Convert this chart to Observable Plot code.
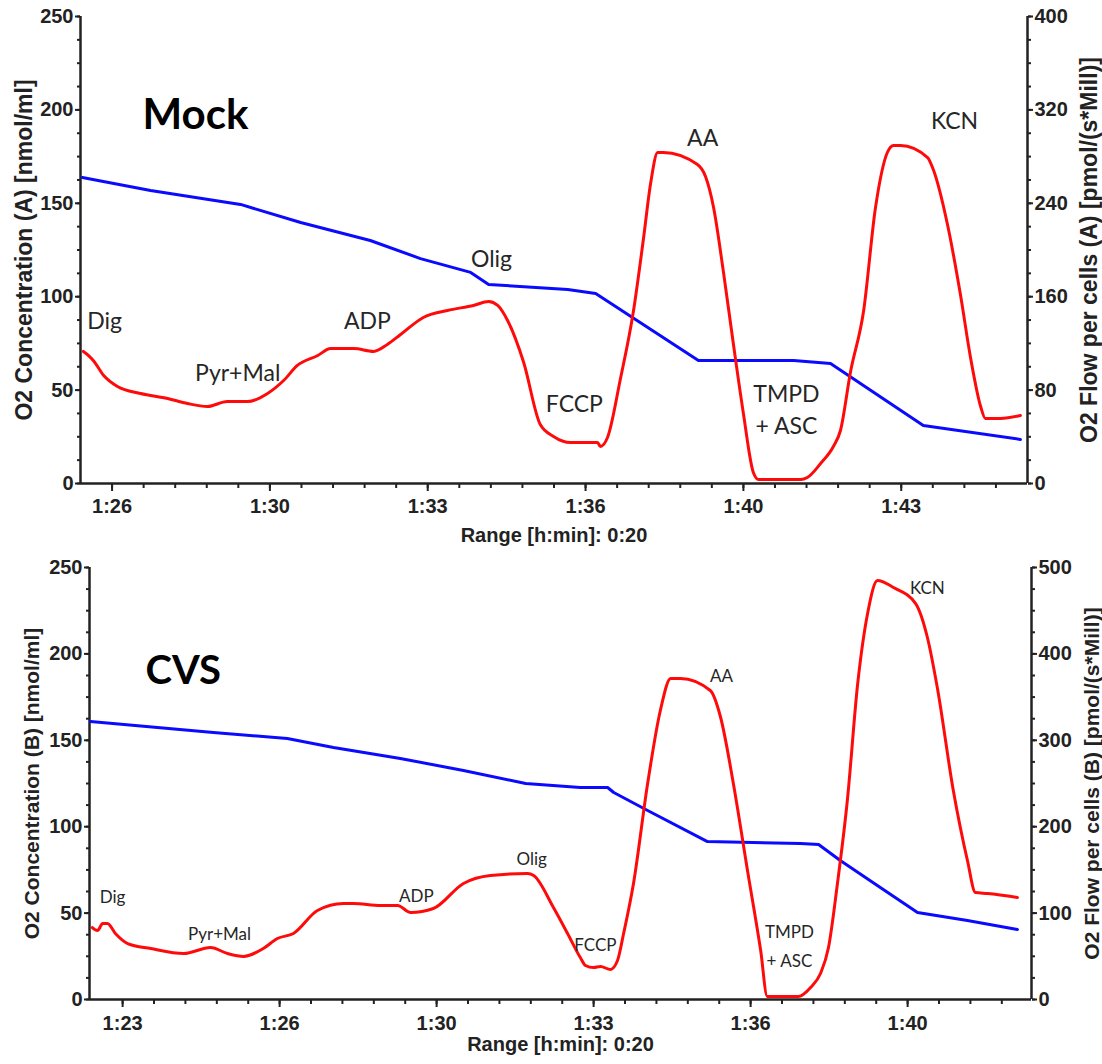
<!DOCTYPE html>
<html>
<head>
<meta charset="utf-8">
<script src="https://cdn.jsdelivr.net/npm/d3@7"></script>
<script src="https://cdn.jsdelivr.net/npm/@observablehq/plot@0.6"></script>
<style>
  body { margin: 0; background: #fff; }
  #chart svg { display: block; }
</style>
</head>
<body>
<div id="chart"></div>
<script>
// Time is in minutes of the run (86.5 = 1:26:30).

// ---- Mock: chamber A ----
const mockConcTime = [86.04, 87.48, 89.38, 90.65, 92.12, 93.18, 94.24, 94.62, 96.29, 96.88, 99.05, 101.06, 101.84, 103.80, 105.85];
const mockConc = [163.8, 156.9, 149.4, 139.7, 130.1, 120.4, 113.0, 106.5, 103.9, 101.7, 65.8, 65.8, 64.2, 31.0, 23.6];

const mockFlowTime = [86.06, 86.17, 86.27, 86.49, 86.78, 87.27, 87.84, 88.26, 88.68, 89.10, 89.53, 89.95, 90.29, 90.58, 91.01, 91.28, 91.77, 92.19, 92.48, 92.76, 93.24, 93.75, 94.30, 94.62, 94.81, 95.02, 95.36, 95.71, 95.99, 96.35, 96.92, 96.98, 97.13, 97.40, 97.68, 97.89, 98.04, 98.19, 98.31, 99.03, 99.20, 99.37, 99.58, 99.79, 100.00, 100.21, 100.32, 101.21, 101.35, 101.63, 101.90, 102.05, 102.26, 102.54, 102.79, 103.04, 103.17, 103.32, 103.89, 104.01, 104.31, 104.58, 104.80, 105.01, 105.11, 105.43, 105.85];
const mockFlow = [113.1, 109.6, 105.4, 92.5, 83.1, 77.1, 72.8, 68.5, 66.0, 70.2, 70.2, 77.1, 88.2, 101.1, 109.6, 115.6, 115.6, 113.1, 119.1, 127.6, 142.2, 148.2, 152.5, 155.9, 152.5, 139.6, 103.6, 50.5, 40.3, 35.1, 35.1, 31.7, 39.4, 89.1, 148.2, 209.8, 257.0, 283.5, 283.5, 273.2, 262.9, 236.4, 180.7, 119.1, 60.0, 9.4, 3.4, 3.4, 5.1, 17.1, 31.7, 45.4, 95.1, 148.2, 236.4, 283.5, 289.5, 289.5, 279.2, 268.9, 221.8, 162.7, 107.1, 66.0, 55.7, 55.7, 58.2];

const mockEvents = ["Dig", "Pyr+Mal", "ADP", "Olig", "FCCP", "AA", "TMPD\n+ ASC", "KCN"];
const mockEventTime = [86.51, 89.32, 92.06, 94.68, 96.43, 99.14, 100.91, 104.46];
const mockEventLevel = [88.3, 60.5, 88.3, 121.5, 43.9, 186.3, 40.7, 195.4];

const mockTicks = [86 + 2 / 3, 90, 93 + 1 / 3, 96 + 2 / 3, 100, 103 + 1 / 3];
const mockTickLabels = ["1:26", "1:30", "1:33", "1:36", "1:40", "1:43"];

// ---- CVS: chamber B ----
const cvsConcTime = [82.65, 85.26, 86.83, 87.81, 89.23, 90.57, 91.89, 93.05, 93.63, 93.76, 94.48, 95.75, 97.73, 98.11, 98.57, 99.42, 100.21, 101.27, 102.33];
const cvsConc = [160.9, 154.5, 151.0, 145.8, 139.5, 132.5, 125.0, 122.7, 122.7, 119.8, 109.4, 91.4, 90.3, 89.7, 80.4, 64.8, 50.3, 45.7, 40.5];

const cvsFlowTime = [82.69, 82.80, 82.91, 83.01, 83.18, 83.44, 83.93, 84.63, 85.20, 85.56, 85.90, 86.32, 86.62, 86.96, 87.47, 88.02, 88.23, 88.81, 89.17, 89.45, 89.93, 90.57, 91.14, 91.93, 92.06, 92.48, 92.78, 93.05, 93.16, 93.33, 93.48, 93.69, 93.84, 93.97, 94.18, 94.48, 94.75, 94.97, 95.18, 95.81, 96.03, 96.30, 96.60, 96.88, 97.02, 97.68, 97.94, 98.15, 98.32, 98.51, 98.72, 98.94, 99.15, 99.36, 99.70, 100.17, 100.42, 100.63, 100.97, 101.27, 101.44, 101.70, 102.33];
const cvsFlow = [83.3, 79.9, 88.0, 88.0, 76.4, 64.8, 59.0, 53.2, 60.2, 53.2, 49.8, 59.0, 70.6, 76.4, 103.0, 111.1, 111.1, 108.8, 108.8, 100.7, 105.3, 134.3, 143.5, 145.8, 143.5, 106.5, 76.4, 48.6, 39.4, 37.0, 38.2, 34.7, 45.1, 76.4, 134.3, 250.0, 334.5, 371.5, 371.5, 357.6, 326.4, 250.0, 149.3, 56.7, 3.5, 3.5, 13.9, 30.1, 60.2, 134.3, 230.3, 365.7, 446.8, 485.0, 476.9, 458.3, 419.0, 361.1, 241.9, 160.9, 123.8, 122.7, 118.1];

const cvsEvents = ["Dig", "Pyr+Mal", "ADP", "Olig", "FCCP", "AA", "TMPD\n+ ASC", "KCN"];
const cvsEventTime = [83.12, 85.39, 89.57, 92.02, 93.37, 96.05, 97.49, 100.42];
const cvsEventLevel = [61.3, 39.9, 61.9, 82.8, 33.0, 189.2, 32.4, 239.6];

const cvsTicks = [83 + 1 / 3, 86 + 2 / 3, 90, 93 + 1 / 3, 96 + 2 / 3, 100];
const cvsTickLabels = ["1:23", "1:26", "1:30", "1:33", "1:36", "1:40"];

const concTicks = [0, 50, 100, 150, 200, 250];

const INK = "#222";
const BLUE = "#0a0aff";
const RED = "#ff0a0a";

function oxygraphPanel(cfg) {
  const k = 250 / cfg.flowMax; // flow value -> concentration-axis units
  const conc = cfg.concTime.map((t, i) => ({t, v: cfg.conc[i]}));
  const flow = cfg.flowTime.map((t, i) => ({t, v: cfg.flow[i]}));
  const events = cfg.events.map((label, i) => ({label, t: cfg.eventTime[i], v: cfg.eventLevel[i]}));
  const [x0, x1] = cfg.xDomain;
  const minorX = d3.range(cfg.ticks[0], x1 - 0.01, 2 / 3);
  const flowMajor = d3.range(0, cfg.flowMax + 1, cfg.flowStep);
  const flowMinor = d3.range(0, cfg.flowMax + 1, cfg.flowStep / 4);
  const tickText = {color: INK, fontSize: 20, fontWeight: "bold", strokeWidth: 2, label: null};
  const tickOnly = {color: INK, strokeWidth: 2, tickFormat: () => "", label: null};
  const titleText = {fontSize: cfg.yLabelSize, fontWeight: "bold", fill: INK, rotate: -90,
    textAnchor: "middle", lineAnchor: "middle", ariaLabel: "axis-title"};

  const svg = Plot.plot({
    width: 1102,
    height: cfg.height,
    marginLeft: cfg.marginLeft,
    marginRight: cfg.marginRight,
    marginTop: cfg.marginTop,
    marginBottom: cfg.marginBottom,
    style: {fontFamily: "'Liberation Sans', Arial, sans-serif", background: "#fff", color: INK},
    x: {domain: cfg.xDomain},
    y: {domain: [0, 250]},
    marks: [
      // axes: minor ticks, then labelled major ticks
      Plot.axisX(minorX, {...tickOnly, tickSize: 5}),
      Plot.axisX(cfg.ticks, {...tickText, tickSize: 8, tickPadding: cfg.xTickPadding,
        tickFormat: d => cfg.tickLabels[cfg.ticks.indexOf(d)]}),
      Plot.axisY(d3.range(0, 250.1, 12.5), {...tickOnly, anchor: "left", tickSize: 3}),
      Plot.axisY(concTicks, {...tickText, anchor: "left", tickSize: 5, tickPadding: 2}),
      Plot.axisY(flowMinor.map(v => v * k), {...tickOnly, anchor: "right", tickSize: 3}),
      Plot.axisY(flowMajor.map(v => v * k), {...tickText, anchor: "right", tickSize: 5, tickPadding: 2,
        tickFormat: d => String(Math.round(d / k))}),
      Plot.ruleY([0], {stroke: INK, strokeWidth: 2.5}),
      Plot.ruleX([x0, x1], {y1: 0, y2: 250, stroke: INK, strokeWidth: 2.5}),

      // traces
      Plot.line(conc, {x: "t", y: "v", stroke: BLUE, strokeWidth: 3}),
      Plot.line(flow, {x: "t", y: d => d.v * k, stroke: RED, strokeWidth: 3, curve: "monotone-x"}),

      // injection labels
      Plot.text(events, {x: "t", y: "v", text: "label", fontFamily: "Lato, 'Open Sans', sans-serif",
        fontSize: cfg.eventSize, lineHeight: cfg.eventLineHeight, fill: "#262626"}),

      // panel name
      Plot.text([cfg.title], {text: d => d, frameAnchor: "top-left", textAnchor: "start",
        dx: cfg.titleDx, dy: cfg.titleDy, fontFamily: "Lato, sans-serif", fontWeight: "bold",
        fontSize: cfg.titleSize, fill: "#000"}),

      // axis titles
      Plot.text([cfg.yLabel], {...titleText, text: d => d, frameAnchor: "left", dx: cfg.yLabelDx}),
      Plot.text([cfg.y2Label], {...titleText, text: d => d, frameAnchor: "right", dx: cfg.y2LabelDx}),
      Plot.text(["Range [h:min]: 0:20"], {text: d => d, frameAnchor: "bottom", dy: cfg.xLabelDy,
        fontSize: 20, fontWeight: "bold", fill: INK})
    ]
  });

  svg.querySelectorAll('g[aria-label="axis-title"] text')
    .forEach(t => t.setAttribute("letter-spacing", cfg.yLabelSpacing));
  return svg;
}

const chart = document.getElementById("chart");

chart.appendChild(oxygraphPanel({
  height: 548, marginLeft: 80, marginRight: 75, marginTop: 16, marginBottom: 65,
  xDomain: [86, 106], ticks: mockTicks, tickLabels: mockTickLabels, xTickPadding: 7,
  concTime: mockConcTime, conc: mockConc, flowTime: mockFlowTime, flow: mockFlow,
  flowMax: 400, flowStep: 80,
  events: mockEvents, eventTime: mockEventTime, eventLevel: mockEventLevel,
  eventSize: 23, eventLineHeight: 1.43,
  title: "Mock", titleDx: 62, titleDy: 83, titleSize: 42,
  yLabel: "O2 Concentration (A) [nmol/ml]", y2Label: "O2 Flow per cells (A) [pmol/(s*Mill)]",
  yLabelDx: -56, y2LabelDx: 62, yLabelSize: 23, yLabelSpacing: 1.9, xLabelDy: 58
}));

chart.appendChild(oxygraphPanel({
  height: 516, marginLeft: 89, marginRight: 71, marginTop: 19, marginBottom: 65,
  xDomain: [82.63, 102.63], ticks: cvsTicks, tickLabels: cvsTickLabels, xTickPadding: 8,
  concTime: cvsConcTime, conc: cvsConc, flowTime: cvsFlowTime, flow: cvsFlow,
  flowMax: 500, flowStep: 100,
  events: cvsEvents, eventTime: cvsEventTime, eventLevel: cvsEventLevel,
  eventSize: 17, eventLineHeight: 1.65,
  title: "CVS", titleDx: 56, titleDy: 88, titleSize: 40,
  yLabel: "O2 Concentration (B) [nmol/ml]", y2Label: "O2 Flow per cells (B) [pmol/(s*Mill)]",
  yLabelDx: -57, y2LabelDx: 61, yLabelSize: 21, yLabelSpacing: 1.9, xLabelDy: 51
}));
</script>
</body>
</html>
